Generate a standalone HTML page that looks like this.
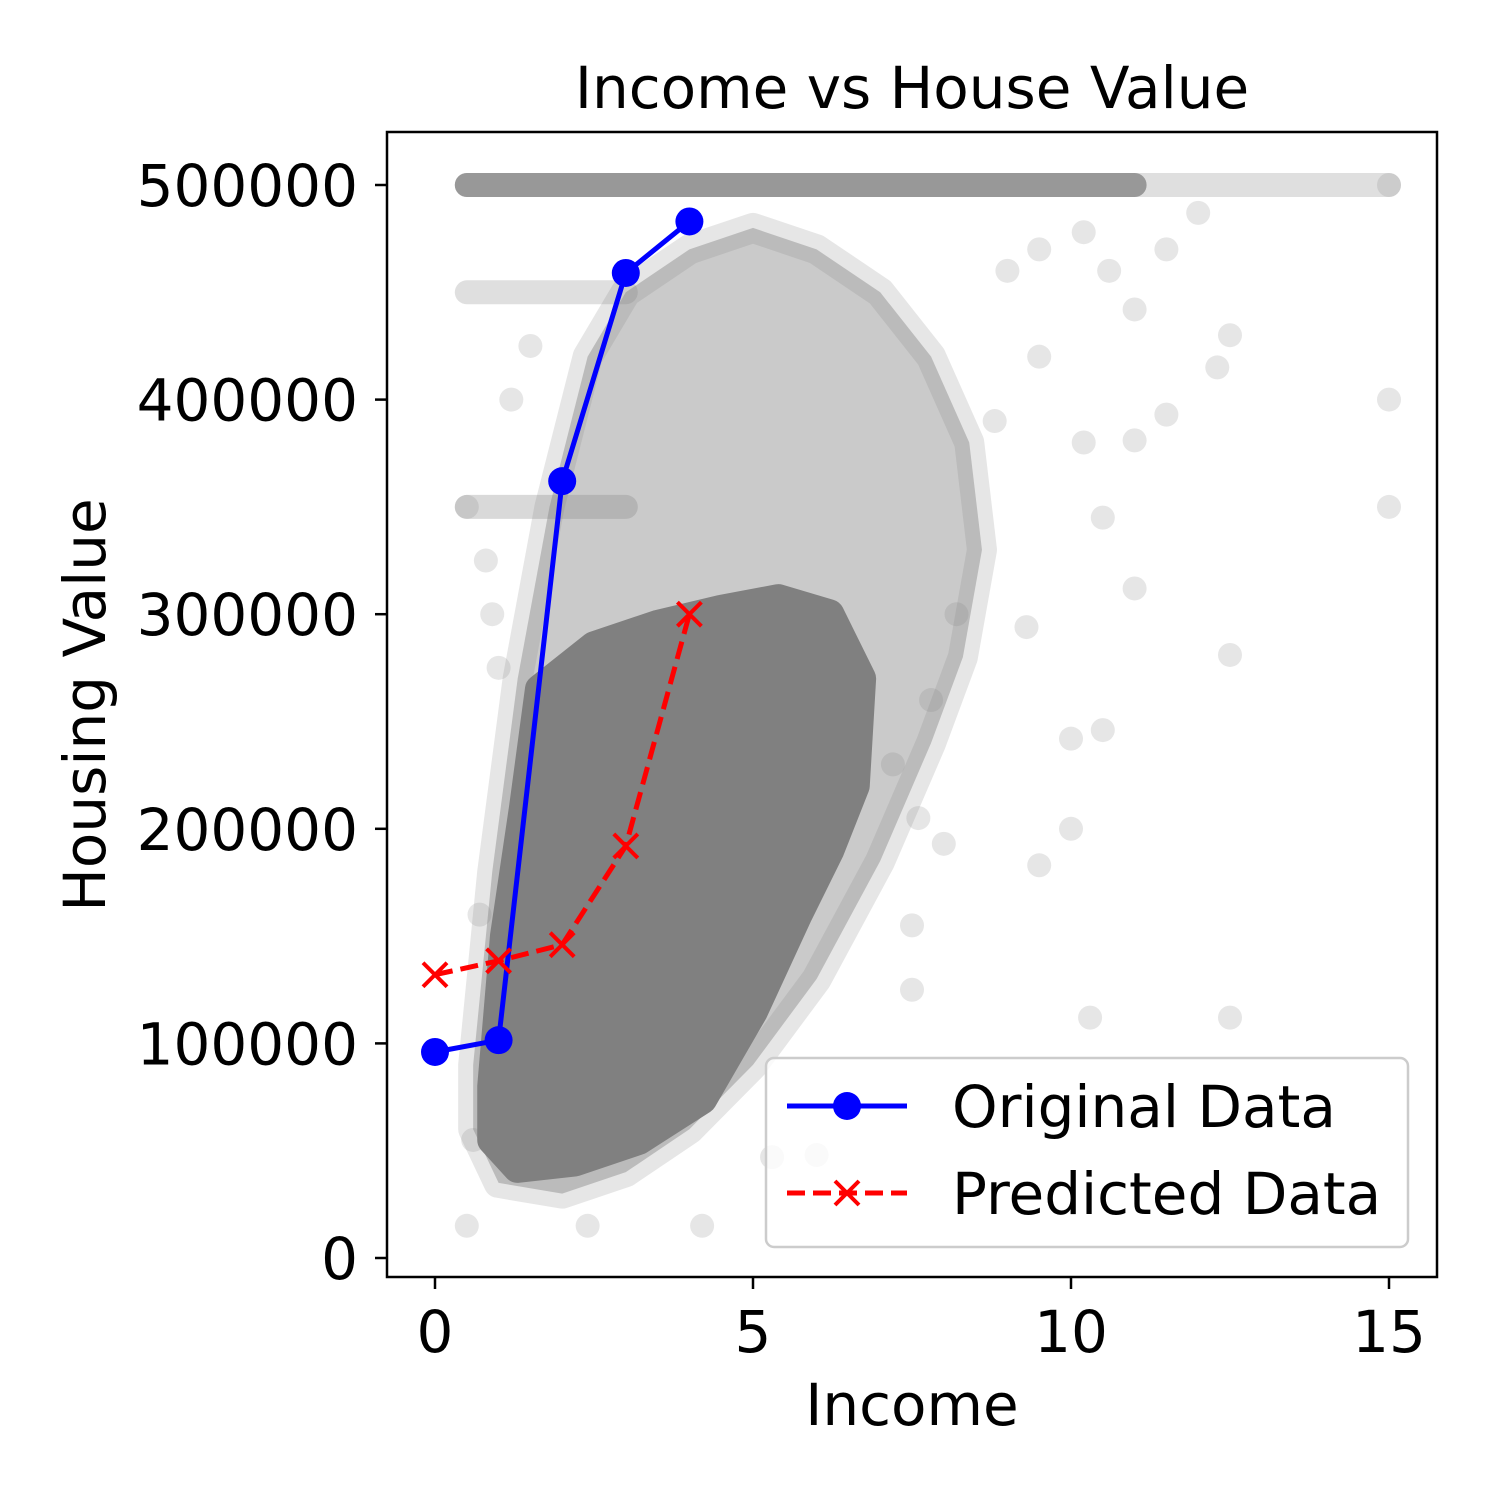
<!DOCTYPE html>
<html><head><meta charset="utf-8"><style>
body{margin:0;background:#fff}
svg{font-family:"DejaVu Sans","Liberation Sans",sans-serif}
</style></head><body>
<svg id="c" width="1500" height="1500" viewBox="0 0 1500 1500" xmlns="http://www.w3.org/2000/svg">
<rect width="1500" height="1500" fill="#fff"/>
<g id="cloud"></g>
<g id="lines"></g>
<rect x="387" y="132" width="1050" height="1145" fill="none" stroke="#000" stroke-width="2.5"/>
<g id="axes"></g>
<text x="912" y="108" font-size="58" text-anchor="middle">Income vs House Value</text>
<text x="912" y="1425" font-size="58" text-anchor="middle">Income</text>
<text transform="translate(105,705) rotate(-90)" font-size="58" text-anchor="middle">Housing Value</text>
<g>
<rect x="766" y="1058" width="642" height="189" rx="8" fill="#fff" fill-opacity="0.8" stroke="#ccc" stroke-width="2.5"/>
<line x1="787" y1="1106" x2="907" y2="1106" stroke="#0000ff" stroke-width="5"/>
<circle cx="847" cy="1106" r="14" fill="#0000ff"/>
<text x="952" y="1127" font-size="58">Original Data</text>
<line x1="787" y1="1193" x2="907" y2="1193" stroke="#ff0000" stroke-width="5" stroke-dasharray="18,8"/>
<path d="M835 1181L859 1205M859 1181L835 1205" stroke="#ff0000" stroke-width="4"/>
<text x="952" y="1214" font-size="58">Predicted Data</text>
</g>
</svg>
<script>
const xTicks=[0,5,10,15];
const yTicks=[0,100000,200000,300000,400000,500000];
const lineX=[0,1,2,3,4];
const originalY=[96000,101500,362000,459000,483000];
const predictedY=[132000,138500,146000,192000,300000];
const coreX=[0.9,1.1,1.4,1.65,2.5,3.5,4.5,5.4,6.2,6.7,6.6,6.2,5.7,5.0,4.2,3.2,2.2,1.3,0.9];
const coreY=[80000,150000,210000,265000,285000,295000,302000,307000,300000,270000,220000,190000,160000,115000,74000,55000,45000,42000,55000];
const haloX=[0.6,0.9,1.3,1.8,2.4,3,4,5,6,7,7.8,8.4,8.6,8.3,7.8,7,6,5,4,3,2,1,0.6];
const haloY=[90000,180000,270000,350000,420000,450000,470000,480000,470000,450000,420000,380000,330000,280000,240000,185000,130000,90000,60000,40000,30000,35000,60000];
const bandStart=[0.5,0.5,0.5,0.5];
const bandEnd=[11,15,3,3];
const bandY=[500000,500000,450000,350000];
const bandAlpha=[0.75,0.25,0.25,0.3];
const ptX=[15,15,15,12.5,12.3,11.5,12.5,10.5,10,10,9.5,10.3,12.5,11,10.5,11,10.2,9.3,8,7.5,7.5,6,4.2,0.5,0.9,1,0.8,0.5,1.2,1.5,12,11,11.5,9,9.5,8.8,7.8,0.6,0.7,2.4,5.3,9.5,10.2,10.6,8.2,7.2,7.6];
const ptY=[500000,400000,350000,430000,415000,393000,281000,246000,242000,200000,183000,112000,112000,312000,345000,381000,380000,294000,193000,155000,125000,48000,15000,15000,300000,275000,325000,350000,400000,425000,487000,442000,470000,460000,420000,390000,260000,55000,160000,15000,47000,470000,478000,460000,300000,230000,205000];
const NS="http://www.w3.org/2000/svg";
const X=v=>435+v*(1389-435)/15;
const Y=v=>1258-v*(1258-185)/500000;
function mk(tag,attrs,parent){const e=document.createElementNS(NS,tag);for(const k in attrs)e.setAttribute(k,attrs[k]);parent.appendChild(e);return e;}
const cloud=document.getElementById('cloud'),lines=document.getElementById('lines'),axes=document.getElementById('axes');
function poly(xs,ys){return xs.map((x,i)=>(i?'L':'M')+X(x)+' '+Y(ys[i])).join('')+'Z';}
let p=mk('path',{d:poly(haloX,haloY),fill:'#808080','fill-opacity':0.42,stroke:'#808080','stroke-opacity':0.2,'stroke-width':30,'stroke-linejoin':'round'},cloud);


p=mk('path',{d:poly(coreX,coreY),fill:'#808080',stroke:'#808080','stroke-width':30,'stroke-linejoin':'round'},cloud);


bandY.forEach((v,i)=>{const l=mk('line',{x1:X(bandStart[i]),x2:X(bandEnd[i]),y1:Y(v),y2:Y(v),stroke:'#808080','stroke-opacity':bandAlpha[i],'stroke-width':24,'stroke-linecap':'round'},cloud);

});
ptX.forEach((x,i)=>{const c=mk('circle',{cx:X(x),cy:Y(ptY[i]),r:12,fill:'#808080','fill-opacity':0.2},cloud);

});
function series(ys,color,dash,marker,name){
 const l=mk('polyline',{points:lineX.map((x,i)=>X(x)+','+Y(ys[i])).join(' '),fill:'none',stroke:color,'stroke-width':5,'stroke-dasharray':dash},lines);
 
 
 lineX.forEach((x,i)=>{const cx=X(x),cy=Y(ys[i]);let m;
  if(marker==='o')m=mk('circle',{cx,cy,r:14,fill:color},lines);
  else m=mk('path',{d:`M${cx-12} ${cy-12}L${cx+12} ${cy+12}M${cx+12} ${cy-12}L${cx-12} ${cy+12}`,stroke:color,'stroke-width':4},lines);
  
  });
}
series(originalY,'#0000ff','none','o','original');
series(predictedY,'#ff0000','18,8','x','predicted');
xTicks.forEach(v=>{const t=mk('line',{x1:X(v),x2:X(v),y1:1277,y2:1289,stroke:'#000','stroke-width':2.5},axes);


const s=mk('text',{x:X(v),y:1352,'font-size':58,'text-anchor':'middle'},axes);s.textContent=v;

});
yTicks.forEach(v=>{const t=mk('line',{x1:375,x2:387,y1:Y(v),y2:Y(v),stroke:'#000','stroke-width':2.5},axes);


const s=mk('text',{x:358,y:Y(v)+21,'font-size':58,'text-anchor':'end'},axes);s.textContent=v;

});
</script>
</body></html>
